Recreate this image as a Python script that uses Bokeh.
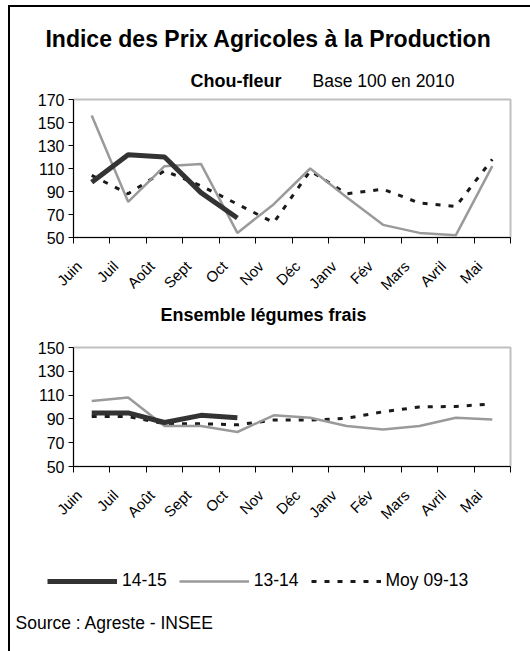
from bokeh.plotting import figure
from bokeh.models import Range1d, FixedTicker, Label, Legend, LegendItem
from bokeh.layouts import column
from bokeh.embed import file_html
from bokeh.resources import INLINE
import math

months = ["Juin", "Juil", "Août", "Sept", "Oct", "Nov", "Déc", "Janv", "Fév", "Mars", "Avril", "Mai"]

# Chou-fleur
cf_1415 = [98, 122, 120, 89, 67]
cf_1314 = [156, 81, 112, 114, 54, 79, 110, 85, 61, 54, 52, 112]
cf_moy = [104, 88, 108, 95, 79, 63, 108, 88, 92, 80, 77, 118]

# Ensemble légumes frais
lf_1415 = [95, 95, 87, 93, 91]
lf_1314 = [105, 108, 84, 84, 79, 93, 91, 84, 81, 84, 91, 89.5]
lf_moy = [92, 92, 86, 86, 85, 89, 89, 90.5, 96, 100, 100.5, 102.5]

cf_yticks = [50, 70, 90, 110, 130, 150, 170]
lf_yticks = [50, 70, 90, 110, 130, 150]

FONT = "Liberation Sans"
C1415 = "#333333"
C1314 = "#9a9a9a"
CMOY = "#1a1a1a"
W = 520

xc = [i + 0.5 for i in range(len(months))]
label_pos = [i + 0.15 for i in range(len(months))]


def text_fig(h):
    p = figure(output_backend="svg", toolbar_location=None, width=W, height=h,
               x_range=Range1d(0, 1), y_range=Range1d(0, 1),
               x_axis_location=None, y_axis_location=None,
               min_border=0, min_border_left=0, min_border_right=0,
               min_border_top=0, min_border_bottom=0, frame_align=False,
               background_fill_color="white", border_fill_color="white")
    p.outline_line_color = None
    p.xgrid.visible = False
    p.ygrid.visible = False
    return p


def lab(p, x, y, text, size="17px", bold=False, align="left"):
    p.add_layout(Label(x=x, y=y, x_units="screen", y_units="screen", text=text,
                       text_font=FONT, text_font_size=size,
                       text_font_style="bold" if bold else "normal",
                       text_align=align, text_baseline="middle", text_color="black"))


def make_fig(ymin, ymax, yticks, fh, bottom):
    p = figure(output_backend="svg", toolbar_location=None,
               x_range=Range1d(0, 12), y_range=Range1d(ymin, ymax),
               frame_width=437, frame_height=fh, frame_align=False,
               min_border_left=63, min_border_right=20,
               min_border_top=10, min_border_bottom=bottom,
               background_fill_color="white", border_fill_color="white")
    p.xgrid.visible = False
    p.ygrid.visible = False
    p.outline_line_color = "#c0c0c0"
    p.outline_line_width = 2
    p.yaxis.ticker = FixedTicker(ticks=yticks)
    p.yaxis.major_tick_out = 5
    p.yaxis.major_tick_in = 0
    p.yaxis.minor_tick_out = 0
    p.yaxis.minor_tick_in = 0
    p.yaxis.major_label_text_font = FONT
    p.yaxis.major_label_text_font_size = "16px"
    p.yaxis.major_label_text_color = "black"
    p.yaxis.major_label_standoff = 4
    p.yaxis.axis_line_color = "black"
    p.yaxis.major_tick_line_color = "black"
    p.xaxis.ticker = FixedTicker(ticks=label_pos, minor_ticks=list(range(13)))
    p.xaxis.major_label_overrides = {c: m for c, m in zip(label_pos, months)}
    p.xaxis.major_tick_out = 0
    p.xaxis.major_tick_in = 0
    p.xaxis.minor_tick_out = 6
    p.xaxis.minor_tick_in = 0
    p.xaxis.minor_tick_line_color = "black"
    p.xaxis.axis_line_color = "black"
    p.xaxis.major_label_orientation = math.pi / 4
    p.xaxis.major_label_text_font = FONT
    p.xaxis.major_label_text_font_size = "15px"
    p.xaxis.major_label_text_color = "black"
    p.xaxis.major_label_standoff = 20
    return p


# ---------- Header ----------
p0 = text_fig(82)
lab(p0, 258, 51, "Indice des Prix Agricoles à la Production", size="23px", bold=True, align="center")
lab(p0, 180, 9, "Chou-fleur", size="18px", bold=True)
lab(p0, 302, 9, "Base 100 en 2010", size="17.5px")

# ---------- Chart 1 : Chou-fleur ----------
p1 = make_fig(50, 170, cf_yticks, 138, 63)
p1.line(xc, cf_moy, line_color=CMOY, line_width=3, line_dash="5 8")
p1.line(xc, cf_1314, line_color=C1314, line_width=2.5)
p1.line(xc[:len(cf_1415)], cf_1415, line_color=C1415, line_width=5)

# ---------- Chart 2 title ----------
pt = text_fig(35)
lab(pt, 253, 23, "Ensemble légumes frais", size="18px", bold=True, align="center")

# ---------- Chart 2 : Ensemble légumes frais ----------
p2 = make_fig(50, 150, lf_yticks, 119, 67)
p2.line(xc, lf_moy, line_color=CMOY, line_width=3, line_dash="5 8")
p2.line(xc, lf_1314, line_color=C1314, line_width=2.5)
p2.line(xc[:len(lf_1415)], lf_1415, line_color=C1415, line_width=5)

# ---------- Legend + source ----------
p3 = text_fig(118)
g1 = p3.line([-5, -4], [-5, -5], line_color=C1415, line_width=5)
g2 = p3.line([-5, -4], [-5, -5], line_color=C1314, line_width=2.5)
g3 = p3.line([-5, -4], [-5, -5], line_color=CMOY, line_width=3, line_dash="5 8")
legend = Legend(items=[LegendItem(label="14-15", renderers=[g1]),
                       LegendItem(label="13-14", renderers=[g2]),
                       LegendItem(label="Moy 09-13", renderers=[g3])],
                location=(37, 60), orientation="horizontal",
                glyph_width=70, glyph_height=20, label_standoff=5, spacing=12,
                padding=0, margin=0, border_line_color=None,
                background_fill_alpha=0,
                label_text_font=FONT, label_text_font_size="17.5px",
                label_text_color="black")
p3.add_layout(legend, "center")
lab(p3, 5, 29, "Source : Agreste - INSEE", size="17.5px")

layout = column(p0, p1, pt, p2, p3, spacing=0,
                styles={"margin-left": "8px", "margin-top": "5px",
                        "border-left": "2px solid black", "border-top": "2px solid black"})

with open("out.html", "w") as f:
    f.write(file_html(layout, INLINE))
